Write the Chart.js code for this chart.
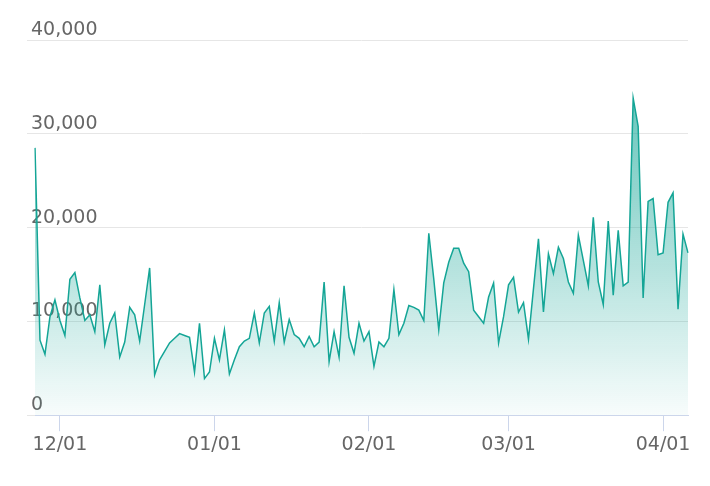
<!DOCTYPE html>
<html>
<head>
<meta charset="utf-8">
<script src="https://cdn.jsdelivr.net/npm/chart.js@4/dist/chart.umd.min.js"></script>
<style>
  html, body { margin: 0; padding: 0; background: #fff; }
  #wrap { width: 710px; height: 486px; }
</style>
</head>
<body>
<div id="wrap"><canvas id="chart"></canvas></div>
<script>
// daily values starting 2022-11-26
const startDate = new Date(2022, 10, 26);
const values = [
  28500, 8000, 6500, 10500, 12300, 10100, 8500, 14500, 15200, 12500,
  10100, 10700, 8900, 13900, 7500, 9800, 10900, 6200, 7800, 11500,
  10700, 7900, 11800, 15700, 4300, 5900, 6800, 7700, 8200, 8700,
  8500, 8300, 4600, 9800, 3900, 4600, 8200, 5900, 9100, 4400, 5900,
  7300, 7900, 8200, 10900, 7700, 10900, 11600, 7900, 12000, 7800,
  10200, 8600, 8200, 7300, 8400, 7300, 7800, 14200, 5700, 8900,
  6200, 13800, 8300, 6600, 9800, 7900, 8900, 5200, 7800, 7300,
  8200, 13400, 8600, 9800, 11700, 11500, 11200, 10100, 19400, 14500,
  9100, 14100, 16300, 17800, 17800, 16200, 15300, 11200, 10500, 9800,
  12600, 14100, 7700, 10500, 13900, 14700, 11000, 12000, 8100, 13500,
  18800, 11000, 17200, 15100, 17900, 16700, 14200, 13000, 19200, 16500,
  13800, 21100, 14200, 11800, 20700, 12800, 19700, 13800, 14200, 33800,
  30800, 12500, 22800, 23100, 17100, 17300, 22700, 23700, 11300, 19300,
  17300
];
const yTicks = [0, 10000, 20000, 30000, 40000];

const labels = values.map((_, i) => {
  const d = new Date(startDate);
  d.setDate(d.getDate() + i);
  return String(d.getMonth() + 1).padStart(2, '0') + '/' + String(d.getDate()).padStart(2, '0');
});

const ctx = document.getElementById('chart').getContext('2d');
new Chart(ctx, {
  type: 'line',
  data: {
    labels,
    datasets: [{
      data: values,
      borderColor: '#14a596',
      borderWidth: 1.5,
      pointRadius: 0,
      tension: 0,
      fill: 'origin',
      backgroundColor: (c) => {
        const area = c.chart.chartArea;
        if (!area) return 'rgba(20,165,150,0.3)';
        const g = c.chart.ctx.createLinearGradient(0, area.top, 0, area.bottom);
        g.addColorStop(0, 'rgba(20,165,150,0.75)');
        g.addColorStop(1, 'rgba(20,165,150,0.03)');
        return g;
      }
    }]
  },
  options: {
    responsive: true,
    maintainAspectRatio: false,
    animation: false,
    layout: { padding: { left: 35, right: 22, top: 40, bottom: 28 } },
    plugins: { legend: { display: false }, tooltip: { enabled: false } },
    scales: {
      x: {
        offset: false,
        border: { color: '#ccd6eb' },
        grid: { drawOnChartArea: false, color: '#ccd6eb', tickLength: 16 },
        ticks: {
          autoSkip: false,
          maxRotation: 0,
          color: '#666',
          font: { size: 19, family: 'DejaVu Sans' },
          padding: 2,
          callback: (v, i) => labels[i].endsWith('/01') ? labels[i] : null
        }
      },
      y: {
        min: 0,
        max: 40000,
        afterBuildTicks: (axis) => { axis.ticks = yTicks.map(v => ({ value: v })); },
        border: { display: false },
        grid: { color: '#e6e6e6' },
        ticks: {
          mirror: true,
          padding: -4,
          labelOffset: -10,
          color: '#666',
          font: { size: 19, family: 'DejaVu Sans' },
          callback: (v) => v.toLocaleString('en-US')
        }
      }
    }
  }
});
</script>
</body>
</html>
